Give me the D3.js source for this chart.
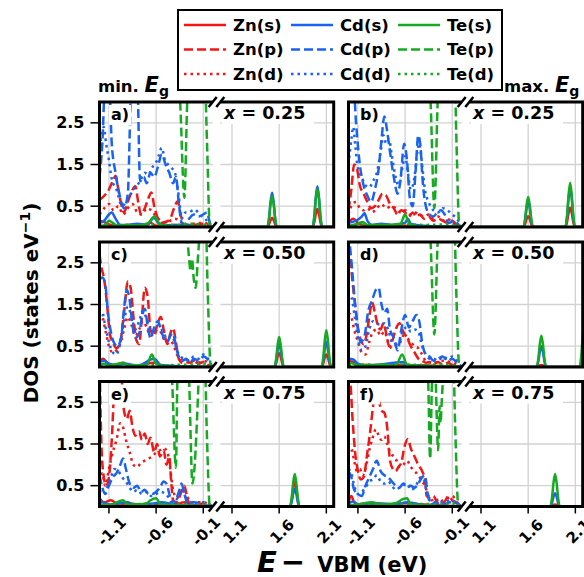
<!DOCTYPE html>
<html>
<head>
<script src="https://d3js.org/d3.v7.min.js"></script>
<style>
  body { margin: 0; background: #fff; }
  svg { font-family: 'DejaVu Sans', sans-serif; font-weight: bold; }
  text { white-space: pre; }
</style>
</head>
<body>
<div id="chart"></div>
<script>
// ---- data: [E - VBM (eV), DOS (states/eV)] ----
var seriesNames = ["Zn(s)", "Zn(p)", "Zn(d)", "Cd(s)", "Cd(p)", "Cd(d)", "Te(s)", "Te(p)", "Te(d)"];
var panelLabels = ["a)", "b)", "c)", "d)", "e)", "f)"];
var compositions = ["0.25", "0.25", "0.50", "0.50", "0.75", "0.75"];
var vbTicks = [-1.1, -0.6, -0.1];
var cbTicks = [1.1, 1.6, 2.1];
var yTicks = [0.5, 1.5, 2.5];

// panel a
var aZnS = [[-1.2,0.15],[-1.15,0.12],[-1.1,0.06],[-1.0,0.03],[-0.9,0.05],[-0.8,0.05],[-0.7,0.04],[-0.66,0.1],[-0.6,0.03],[-0.4,0.05],[-0.2,0.02],[0,0],
  [0.976,0],[1.475,0],[1.492,0.06],[1.508,0.16],[1.525,0.22],[1.542,0.16],[1.558,0.06],[1.575,0],[1.955,0],[1.972,0.11],[1.988,0.31],[2.005,0.43],[2.022,0.31],[2.038,0.11],[2.055,0],[2.178,0]];
var aZnP = [[-1.2,0.65],[-1.15,0.75],[-1.1,0.9],[-1.06,1.1],[-1.03,1.23],[-1.0,0.9],[-0.97,0.55],[-0.94,0.35],[-0.9,0.6],[-0.86,0.85],[-0.82,0.98],[-0.79,0.6],[-0.76,0.3],[-0.72,0.45],[-0.68,0.7],[-0.65,0.83],[-0.62,0.5],[-0.58,0.2],[-0.54,0.1],[-0.5,0.12],[-0.45,0.2],[-0.41,0.45],[-0.37,0.62],[-0.34,0.3],[-0.3,0.05],[-0.2,0.05],[-0.1,0.08],[0,0]];
var aZnD = [[-1.2,0.3],[-1.15,0.45],[-1.1,0.55],[-1.05,0.4],[-1.0,0.5],[-0.95,0.3],[-0.9,0.45],[-0.85,0.55],[-0.8,0.35],[-0.75,0.3],[-0.7,0.45],[-0.65,0.4],[-0.6,0.25],[-0.55,0.15],[-0.5,0.1],[-0.45,0.15],[-0.4,0.2],[-0.35,0.15],[-0.3,0.05],[-0.2,0.08],[-0.1,0.1],[0,0]];
var aCdS = [[-1.2,0.1],[-1.15,0.15],[-1.1,0.3],[-1.07,0.35],[-1.03,0.2],[-0.98,0.05],[-0.9,0.05],[-0.8,0.08],[-0.7,0.05],[-0.62,0.22],[-0.58,0.1],[-0.5,0.03],[-0.4,0.05],[-0.2,0.02],[0,0],
  [0.976,0],[1.475,0],[1.492,0.2],[1.508,0.59],[1.525,0.82],[1.542,0.59],[1.558,0.2],[1.575,0],[1.955,0],[1.972,0.25],[1.988,0.71],[2.005,0.98],[2.022,0.71],[2.038,0.25],[2.055,0],[2.178,0]];
var aCdP = [[-1.2,1.2],[-1.17,2.0],[-1.14,3.5],[-1.1,3.5],[-1.07,2.0],[-1.03,1.3],[-0.98,0.7],[-0.94,0.45],[-0.9,0.8],[-0.86,3.5],[-0.8,3.5],[-0.77,1.1],[-0.73,1.2],[-0.7,1.05],[-0.66,1.3],[-0.62,1.2],[-0.58,1.45],[-0.54,1.75],[-0.5,1.5],[-0.46,1.3],[-0.42,1.05],[-0.39,1.2],[-0.36,0.6],[-0.33,0.1],[-0.3,0.05],[-0.25,0.2],[-0.2,0.3],[-0.15,0.25],[-0.1,0.3],[-0.06,0.35],[-0.03,0.1],[0,0]];
var aCdD = [[-1.2,1.6],[-1.18,2.2],[-1.155,2.4],[-1.13,2.0],[-1.1,1.6],[-1.07,1.15],[-1.02,0.9],[-0.96,0.5],[-0.92,0.6],[-0.89,0.7],[-0.84,0.9],[-0.8,1.0],[-0.77,1.1],[-0.72,1.3],[-0.68,1.25],[-0.65,1.4],[-0.6,1.55],[-0.575,1.7],[-0.54,1.9],[-0.505,1.6],[-0.45,1.45],[-0.4,1.3],[-0.36,0.75],[-0.33,0.2],[-0.29,0.35],[-0.26,0.35],[-0.19,0.42],[-0.14,0.3],[-0.08,0.2],[-0.03,0.05],[0,0]];
var aTeS = [[-1.2,0.02],[-1.14,0.05],[-1.1,0.15],[-1.06,0.1],[-1.0,0.02],[-0.9,0.05],[-0.8,0.03],[-0.68,0.1],[-0.62,0.25],[-0.57,0.1],[-0.5,0.02],[-0.3,0.02],[0,0],
  [0.976,0],[1.475,0],[1.492,0.19],[1.508,0.53],[1.525,0.74],[1.542,0.53],[1.558,0.19],[1.575,0],[1.955,0],[1.972,0.23],[1.988,0.66],[2.005,0.92],[2.022,0.66],[2.038,0.23],[2.055,0],[2.178,0]];
var aTeP = [[-1.2,3.6],[-0.36,3.6],[-0.345,3.0],[-0.3,0.7],[-0.27,3.0],[-0.255,3.6],[-0.085,3.6],[-0.06,2.0],[-0.03,0],[0,0]];
var aTeD = [[-1.2,0.03],[-1.0,0.05],[-0.8,0.04],[-0.6,0.06],[-0.4,0.05],[-0.25,0.08],[-0.1,0.06],[0,0]];

// panel b
var bZnS = [[-1.2,0.1],[-1.15,0.2],[-1.1,0.1],[-1.0,0.03],[-0.8,0.05],[-0.6,0.03],[-0.4,0.02],[0,0],
  [0.976,0],[1.55,0],[1.567,0.07],[1.583,0.19],[1.6,0.26],[1.617,0.19],[1.633,0.07],[1.65,0],[1.995,0],[2.012,0.12],[2.028,0.33],[2.045,0.46],[2.062,0.33],[2.078,0.12],[2.095,0],[2.178,0]];
var bZnP = [[-1.2,0.4],[-1.17,0.9],[-1.14,1.5],[-1.11,1.4],[-1.08,1.0],[-1.04,0.8],[-1.0,0.6],[-0.96,0.45],[-0.92,0.5],[-0.88,0.65],[-0.84,0.8],[-0.8,0.75],[-0.76,0.55],[-0.72,0.45],[-0.68,0.3],[-0.64,0.4],[-0.6,0.35],[-0.56,0.25],[-0.52,0.35],[-0.48,0.25],[-0.44,0.3],[-0.4,0.2],[-0.35,0.25],[-0.3,0.15],[-0.25,0.2],[-0.2,0.15],[-0.15,0.1],[-0.1,0.15],[-0.05,0.05],[0,0]];
var bZnD = [[-1.2,0.3],[-1.16,0.55],[-1.12,0.6],[-1.08,0.45],[-1.04,0.4],[-1.0,0.45],[-0.95,0.35],[-0.9,0.45],[-0.85,0.55],[-0.8,0.45],[-0.75,0.5],[-0.7,0.45],[-0.65,0.35],[-0.6,0.4],[-0.55,0.3],[-0.5,0.35],[-0.45,0.3],[-0.4,0.25],[-0.35,0.3],[-0.3,0.2],[-0.25,0.25],[-0.2,0.15],[-0.15,0.2],[-0.1,0.1],[0,0]];
var bCdS = [[-1.2,0.1],[-1.12,0.15],[-1.06,0.25],[-1.03,0.33],[-1.0,0.15],[-0.95,0.05],[-0.85,0.08],[-0.75,0.05],[-0.6,0.1],[-0.57,0.2],[-0.54,0.08],[-0.4,0.03],[0,0],
  [0.976,0],[1.55,0],[1.567,0.16],[1.583,0.45],[1.6,0.62],[1.617,0.45],[1.633,0.16],[1.65,0],[1.995,0],[2.012,0.24],[2.028,0.68],[2.045,0.95],[2.062,0.68],[2.078,0.24],[2.095,0],[2.178,0]];
var bCdP = [[-1.2,3.5],[-1.15,3.5],[-1.12,2.5],[-1.08,1.5],[-1.04,1.0],[-1.0,0.75],[-0.96,0.6],[-0.92,0.9],[-0.88,1.4],[-0.85,2.1],[-0.82,2.65],[-0.79,2.3],[-0.76,1.8],[-0.72,1.2],[-0.68,0.8],[-0.65,1.1],[-0.61,2.0],[-0.58,1.6],[-0.55,0.7],[-0.52,0.5],[-0.49,1.3],[-0.46,2.2],[-0.44,2.0],[-0.41,1.0],[-0.38,0.5],[-0.34,0.3],[-0.3,0.25],[-0.26,0.35],[-0.22,0.4],[-0.18,0.3],[-0.14,0.1],[-0.08,0.15],[-0.03,0.05],[0,0]];
var bCdD = [[-1.2,1.5],[-1.17,2.1],[-1.15,2.4],[-1.13,2.0],[-1.1,1.4],[-1.06,1.2],[-1.02,1.0],[-0.98,0.95],[-0.94,1.1],[-0.9,1.3],[-0.86,1.8],[-0.83,2.2],[-0.8,2.0],[-0.77,2.1],[-0.74,1.7],[-0.7,1.2],[-0.67,1.0],[-0.63,1.4],[-0.6,1.7],[-0.57,1.3],[-0.54,0.9],[-0.5,1.2],[-0.47,1.8],[-0.45,2.0],[-0.42,1.5],[-0.39,0.9],[-0.35,0.6],[-0.3,0.4],[-0.25,0.35],[-0.2,0.45],[-0.15,0.4],[-0.1,0.3],[-0.05,0.2],[0,0]];
var bTeS = [[-1.2,0.02],[-1.1,0.08],[-1.05,0.12],[-1.0,0.05],[-0.8,0.05],[-0.65,0.08],[-0.6,0.3],[-0.56,0.1],[-0.5,0.02],[0,0],
  [0.976,0],[1.55,0],[1.567,0.18],[1.583,0.52],[1.6,0.72],[1.617,0.52],[1.633,0.18],[1.65,0],[1.995,0],[2.012,0.27],[2.028,0.76],[2.045,1.06],[2.062,0.76],[2.078,0.27],[2.095,0],[2.178,0]];
var bTeP = [[-1.2,3.6],[-0.345,3.6],[-0.33,3.0],[-0.29,0.45],[-0.255,3.0],[-0.245,3.6],[-0.075,3.6],[-0.055,2.0],[-0.025,0],[0,0]];
var bTeD = [[-1.2,0.04],[-1.0,0.05],[-0.8,0.05],[-0.6,0.06],[-0.4,0.05],[-0.2,0.06],[-0.1,0.05],[0,0]];

// panel c
var cZnS = [[-1.2,0.15],[-1.16,0.2],[-1.12,0.1],[-1.05,0.03],[-0.95,0.1],[-0.9,0.05],[-0.8,0.03],[-0.62,0.1],[-0.55,0.03],[0,0],
  [0.976,0],[1.55,0],[1.567,0.08],[1.583,0.24],[1.6,0.33],[1.617,0.24],[1.633,0.08],[1.65,0],[2.05,0],[2.067,0.08],[2.083,0.22],[2.1,0.3],[2.117,0.22],[2.133,0.08],[2.15,0],[2.178,0]];
var cZnP = [[-1.2,2.7],[-1.18,2.4],[-1.15,2.1],[-1.12,1.5],[-1.09,0.8],[-1.05,0.55],[-1.02,0.45],[-0.98,0.6],[-0.94,1.3],[-0.9,2.05],[-0.87,1.9],[-0.84,1.2],[-0.81,0.65],[-0.78,0.55],[-0.75,1.2],[-0.72,1.9],[-0.69,1.7],[-0.66,0.9],[-0.62,0.75],[-0.59,1.0],[-0.55,1.2],[-0.52,0.9],[-0.48,0.55],[-0.45,0.8],[-0.42,0.93],[-0.39,0.6],[-0.36,0.2],[-0.32,0.1],[-0.28,0.18],[-0.24,0.1],[-0.2,0.15],[-0.15,0.08],[-0.1,0.12],[-0.05,0.05],[0,0]];
var cZnD = [[-1.2,1.1],[-1.17,1.2],[-1.14,0.9],[-1.1,0.5],[-1.06,0.35],[-1.02,0.4],[-0.98,0.55],[-0.94,0.9],[-0.9,1.2],[-0.86,1.0],[-0.82,0.75],[-0.78,0.9],[-0.74,1.1],[-0.7,0.95],[-0.66,0.75],[-0.62,0.8],[-0.58,0.9],[-0.54,0.8],[-0.5,0.6],[-0.46,0.65],[-0.42,0.55],[-0.38,0.3],[-0.34,0.2],[-0.3,0.15],[-0.25,0.1],[-0.2,0.15],[-0.15,0.1],[-0.1,0.15],[-0.05,0.1],[0,0]];
var cCdS = [[-1.2,0.12],[-1.15,0.15],[-1.1,0.08],[-1.0,0.05],[-0.92,0.08],[-0.8,0.03],[-0.62,0.2],[-0.55,0.05],[0,0],
  [0.976,0],[1.55,0],[1.567,0.14],[1.583,0.4],[1.6,0.55],[1.617,0.4],[1.633,0.14],[1.65,0],[2.05,0],[2.067,0.15],[2.083,0.43],[2.1,0.6],[2.117,0.43],[2.133,0.15],[2.15,0],[2.178,0]];
var cCdP = [[-1.2,2.1],[-1.17,2.15],[-1.14,2.0],[-1.11,1.3],[-1.08,0.85],[-1.05,0.6],[-1.01,0.5],[-0.97,0.7],[-0.94,1.4],[-0.91,1.85],[-0.88,1.6],[-0.85,1.0],[-0.82,0.7],[-0.78,0.8],[-0.75,1.2],[-0.72,1.4],[-0.69,1.0],[-0.66,0.7],[-0.62,0.95],[-0.58,1.1],[-0.55,0.9],[-0.52,0.7],[-0.48,0.6],[-0.45,0.75],[-0.42,0.8],[-0.39,0.5],[-0.36,0.25],[-0.32,0.15],[-0.28,0.2],[-0.24,0.1],[-0.2,0.2],[-0.15,0.15],[-0.1,0.25],[-0.06,0.2],[-0.03,0.05],[0,0]];
var cCdD = [[-1.2,1.2],[-1.17,1.3],[-1.14,1.0],[-1.1,0.6],[-1.06,0.35],[-1.02,0.3],[-0.98,0.6],[-0.94,1.1],[-0.9,1.45],[-0.86,1.2],[-0.82,0.9],[-0.78,1.1],[-0.74,1.35],[-0.7,1.15],[-0.66,0.9],[-0.62,0.85],[-0.58,1.0],[-0.54,0.9],[-0.5,0.75],[-0.46,0.8],[-0.42,0.7],[-0.38,0.4],[-0.34,0.25],[-0.3,0.2],[-0.25,0.15],[-0.2,0.25],[-0.15,0.2],[-0.1,0.3],[-0.05,0.2],[0,0]];
var cTeS = [[-1.2,0.05],[-1.15,0.08],[-1.1,0.03],[-0.95,0.1],[-0.9,0.03],[-0.7,0.05],[-0.645,0.3],[-0.6,0.08],[-0.5,0.02],[0,0],
  [0.976,0],[1.55,0],[1.567,0.18],[1.583,0.52],[1.6,0.72],[1.617,0.52],[1.633,0.18],[1.65,0],[2.05,0],[2.067,0.22],[2.083,0.63],[2.1,0.88],[2.117,0.63],[2.133,0.22],[2.15,0],[2.178,0]];
var cTeP = [[-1.2,3.6],[-0.28,3.6],[-0.265,3.0],[-0.25,2.6],[-0.235,2.3],[-0.22,2.6],[-0.2,2.1],[-0.18,1.9],[-0.16,2.5],[-0.145,3.0],[-0.13,3.6],[-0.075,3.6],[-0.055,2.0],[-0.02,0],[0,0]];
var cTeD = [[-1.2,0.03],[-1.0,0.05],[-0.8,0.05],[-0.6,0.04],[-0.4,0.05],[-0.2,0.06],[-0.1,0.08],[0,0]];

// panel d
var dZnS = [[-1.2,0.15],[-1.15,0.12],[-1.1,0.05],[-0.9,0.05],[-0.62,0.05],[0,0],
  [0.976,0],[1.69,0],[1.707,0.01],[1.723,0.04],[1.74,0.05],[1.757,0.04],[1.773,0.01],[1.79,0],[2.145,0],[2.162,0.05],[2.178,0.14],[2.195,0.2]];
var dZnP = [[-1.2,2.9],[-1.18,2.6],[-1.16,2.1],[-1.13,1.5],[-1.1,0.95],[-1.07,0.65],[-1.04,0.55],[-1.01,0.75],[-0.98,1.2],[-0.95,1.55],[-0.92,1.3],[-0.89,1.0],[-0.86,0.9],[-0.83,1.05],[-0.8,0.8],[-0.77,0.5],[-0.74,0.6],[-0.7,0.9],[-0.66,1.05],[-0.62,0.85],[-0.58,0.7],[-0.54,0.5],[-0.5,0.35],[-0.46,0.2],[-0.42,0.15],[-0.38,0.1],[-0.34,0.12],[-0.3,0.08],[-0.25,0.12],[-0.2,0.05],[-0.15,0.1],[-0.1,0.05],[0,0]];
var dZnD = [[-1.2,1.3],[-1.17,1.2],[-1.14,0.9],[-1.1,0.6],[-1.06,0.35],[-1.02,0.3],[-0.98,0.6],[-0.94,0.85],[-0.9,0.9],[-0.86,0.75],[-0.82,0.85],[-0.78,0.6],[-0.74,0.45],[-0.7,0.5],[-0.66,0.55],[-0.62,0.75],[-0.58,0.7],[-0.54,0.6],[-0.5,0.5],[-0.46,0.45],[-0.42,0.3],[-0.38,0.15],[-0.3,0.1],[-0.2,0.15],[-0.1,0.1],[0,0]];
var dCdS = [[-1.2,0.2],[-1.15,0.18],[-1.1,0.08],[-1.0,0.03],[-0.9,0.05],[-0.62,0.12],[-0.58,0.04],[0,0],
  [0.976,0],[1.69,0],[1.707,0.13],[1.723,0.36],[1.74,0.5],[1.757,0.36],[1.773,0.13],[1.79,0],[2.145,0],[2.162,0.12],[2.178,0.36],[2.195,0.5]];
var dCdP = [[-1.2,3.2],[-1.18,2.8],[-1.16,2.3],[-1.13,1.5],[-1.1,0.9],[-1.07,0.6],[-1.03,0.75],[-0.99,1.35],[-0.95,1.6],[-0.91,1.85],[-0.88,1.9],[-0.85,1.5],[-0.82,1.3],[-0.79,1.4],[-0.76,0.9],[-0.72,0.7],[-0.68,0.4],[-0.64,0.9],[-0.6,1.25],[-0.56,0.95],[-0.52,1.1],[-0.48,1.25],[-0.45,1.1],[-0.42,0.6],[-0.38,0.3],[-0.34,0.25],[-0.3,0.15],[-0.25,0.2],[-0.2,0.25],[-0.15,0.15],[-0.1,0.2],[-0.05,0.1],[0,0]];
var dCdD = [[-1.2,1.6],[-1.17,1.7],[-1.14,1.3],[-1.1,0.7],[-1.06,0.4],[-1.02,0.5],[-0.98,0.9],[-0.94,1.1],[-0.9,1.05],[-0.86,1.0],[-0.82,1.05],[-0.78,0.9],[-0.74,0.6],[-0.7,0.55],[-0.66,0.6],[-0.62,0.9],[-0.58,0.95],[-0.54,0.85],[-0.5,0.9],[-0.46,0.85],[-0.42,0.5],[-0.38,0.3],[-0.34,0.2],[-0.3,0.2],[-0.25,0.15],[-0.2,0.25],[-0.15,0.2],[-0.1,0.25],[-0.05,0.15],[0,0]];
var dTeS = [[-1.2,0.1],[-1.15,0.08],[-1.1,0.03],[-1.0,0.05],[-0.95,0.03],[-0.85,0.06],[-0.7,0.03],[-0.63,0.3],[-0.58,0.05],[0,0],
  [0.976,0],[1.69,0],[1.707,0.19],[1.723,0.54],[1.74,0.75],[1.757,0.54],[1.773,0.19],[1.79,0],[2.145,0],[2.162,0.25],[2.178,0.72],[2.195,1.0]];
var dTeP = [[-1.2,3.6],[-0.345,3.6],[-0.33,3.0],[-0.29,0.78],[-0.255,3.0],[-0.24,3.6],[-0.08,3.6],[-0.06,2.0],[-0.025,0],[0,0]];
var dTeD = [[-1.2,0.04],[-1.0,0.06],[-0.8,0.05],[-0.6,0.06],[-0.4,0.05],[-0.2,0.07],[-0.1,0.05],[0,0]];

// panel e
var eZnS = [[-1.2,0.2],[-1.15,0.1],[-1.08,0.15],[-1.0,0.05],[-0.9,0.08],[-0.8,0.05],[-0.6,0.05],[-0.4,0.05],[-0.3,0.1],[-0.2,0.03],[0,0],
  [0.976,0],[1.715,0],[1.732,0.15],[1.748,0.43],[1.765,0.6],[1.782,0.43],[1.798,0.15],[1.815,0],[2.178,0]];
var eZnP = [[-1.2,3.6],[-1.18,1.5],[-1.16,0.8],[-1.13,0.5],[-1.1,0.7],[-1.07,1.6],[-1.04,3.0],[-1.0,3.6],[-0.97,3.2],[-0.94,2.3],[-0.91,2.1],[-0.88,2.3],[-0.85,1.9],[-0.82,1.7],[-0.78,1.8],[-0.75,1.6],[-0.72,1.75],[-0.69,1.5],[-0.66,1.65],[-0.62,1.3],[-0.59,1.5],[-0.56,1.2],[-0.52,1.35],[-0.49,1.0],[-0.46,1.2],[-0.44,0.6],[-0.42,0.15],[-0.38,0.1],[-0.34,0.3],[-0.3,0.5],[-0.27,0.2],[-0.24,0.05],[-0.2,0.1],[-0.15,0.05],[-0.1,0.08],[0,0]];
var eZnD = [[-1.2,0.6],[-1.17,0.8],[-1.14,0.5],[-1.1,0.9],[-1.06,1.3],[-1.02,1.6],[-0.98,2.0],[-0.95,1.9],[-0.92,1.6],[-0.88,1.3],[-0.84,1.0],[-0.8,0.95],[-0.76,1.05],[-0.72,1.1],[-0.68,1.15],[-0.64,1.2],[-0.6,1.3],[-0.56,1.35],[-0.52,1.4],[-0.48,1.3],[-0.45,0.9],[-0.42,0.4],[-0.38,0.2],[-0.34,0.35],[-0.3,0.4],[-0.26,0.2],[-0.2,0.1],[-0.1,0.1],[0,0]];
var eCdS = [[-1.2,0.15],[-1.15,0.08],[-1.1,0.05],[-0.9,0.1],[-0.85,0.05],[-0.6,0.08],[-0.55,0.1],[-0.4,0.05],[0,0],
  [0.976,0],[1.715,0],[1.732,0.1],[1.748,0.3],[1.765,0.42],[1.782,0.3],[1.798,0.1],[1.815,0],[2.178,0]];
var eCdP = [[-1.2,0.75],[-1.17,0.45],[-1.14,0.3],[-1.1,0.5],[-1.06,0.7],[-1.02,0.8],[-0.98,1.0],[-0.95,1.15],[-0.92,0.9],[-0.88,0.55],[-0.84,0.45],[-0.8,0.5],[-0.76,0.35],[-0.72,0.4],[-0.68,0.3],[-0.64,0.3],[-0.6,0.35],[-0.56,0.45],[-0.52,0.6],[-0.49,0.55],[-0.46,0.3],[-0.43,0.05],[-0.4,0.1],[-0.36,0.35],[-0.33,0.55],[-0.3,0.3],[-0.26,0.05],[-0.2,0.1],[-0.12,0.05],[0,0]];
var eCdD = [[-1.2,0.4],[-1.16,0.3],[-1.12,0.45],[-1.08,0.7],[-1.04,0.9],[-1.0,0.85],[-0.96,0.7],[-0.92,0.6],[-0.88,0.45],[-0.84,0.35],[-0.8,0.4],[-0.75,0.3],[-0.7,0.35],[-0.65,0.25],[-0.6,0.3],[-0.55,0.35],[-0.5,0.3],[-0.46,0.2],[-0.42,0.1],[-0.36,0.25],[-0.32,0.4],[-0.28,0.2],[-0.2,0.08],[-0.1,0.1],[0,0]];
var eTeS = [[-1.2,0.05],[-1.1,0.03],[-0.95,0.15],[-0.9,0.05],[-0.8,0.05],[-0.7,0.08],[-0.66,0.15],[-0.6,0.2],[-0.55,0.05],[-0.4,0.03],[0,0],
  [0.976,0],[1.715,0],[1.732,0.2],[1.748,0.56],[1.765,0.78],[1.782,0.56],[1.798,0.2],[1.815,0],[2.178,0]];
var eTeP = [[-1.2,3.6],[-0.445,3.6],[-0.43,3.0],[-0.39,0.93],[-0.375,3.0],[-0.365,3.6],[-0.265,3.6],[-0.25,3.0],[-0.215,0.55],[-0.15,3.0],[-0.14,3.6],[-0.085,3.6],[-0.065,2.0],[-0.03,0],[0,0]];
var eTeD = [[-1.2,0.05],[-1.0,0.04],[-0.8,0.06],[-0.6,0.05],[-0.4,0.06],[-0.2,0.05],[-0.1,0.06],[0,0]];

// panel f
var fZnS = [[-1.2,0.1],[-1.17,0.25],[-1.14,0.1],[-1.1,0.05],[-1.0,0.08],[-0.8,0.05],[-0.6,0.08],[-0.4,0.05],[0,0],
  [0.976,0],[1.835,0],[1.852,0.01],[1.868,0.04],[1.885,0.05],[1.902,0.04],[1.918,0.01],[1.935,0],[2.178,0]];
var fZnP = [[-1.2,2.6],[-1.18,2.9],[-1.16,2.2],[-1.13,1.3],[-1.1,0.85],[-1.07,0.65],[-1.04,0.7],[-1.0,1.3],[-0.97,1.8],[-0.94,2.4],[-0.91,2.8],[-0.88,2.55],[-0.85,2.3],[-0.82,2.25],[-0.79,1.9],[-0.76,1.1],[-0.73,0.9],[-0.7,0.85],[-0.67,0.95],[-0.64,1.05],[-0.61,1.4],[-0.57,1.62],[-0.54,1.4],[-0.5,1.2],[-0.46,1.0],[-0.42,0.85],[-0.39,0.65],[-0.37,0.25],[-0.33,0.2],[-0.3,0.25],[-0.26,0.1],[-0.22,0.05],[-0.18,0.12],[-0.14,0.25],[-0.1,0.15],[-0.06,0.1],[0,0]];
var fZnD = [[-1.2,1.3],[-1.17,1.4],[-1.14,1.1],[-1.11,0.85],[-1.08,0.9],[-1.05,0.75],[-1.01,1.0],[-0.98,1.35],[-0.95,1.6],[-0.91,1.85],[-0.88,1.7],[-0.85,1.6],[-0.82,1.68],[-0.79,1.5],[-0.76,1.3],[-0.72,1.2],[-0.69,1.1],[-0.66,0.95],[-0.62,1.0],[-0.58,1.1],[-0.54,0.95],[-0.5,0.85],[-0.46,0.75],[-0.42,0.6],[-0.39,0.5],[-0.36,0.3],[-0.32,0.15],[-0.28,0.2],[-0.24,0.1],[-0.2,0.15],[-0.15,0.2],[-0.1,0.25],[-0.05,0.1],[0,0]];
var fCdS = [[-1.2,0.08],[-1.15,0.12],[-1.1,0.05],[-0.9,0.08],[-0.7,0.05],[-0.58,0.1],[-0.4,0.03],[0,0],
  [0.976,0],[1.835,0],[1.852,0.08],[1.868,0.23],[1.885,0.32],[1.902,0.23],[1.918,0.08],[1.935,0],[2.178,0]];
var fCdP = [[-1.2,0.85],[-1.17,0.7],[-1.14,0.4],[-1.1,0.3],[-1.06,0.25],[-1.02,0.5],[-0.98,0.7],[-0.94,0.9],[-0.9,1.1],[-0.86,0.85],[-0.82,0.75],[-0.78,0.7],[-0.74,0.6],[-0.7,0.5],[-0.66,0.45],[-0.62,0.55],[-0.58,0.5],[-0.54,0.5],[-0.5,0.45],[-0.46,0.55],[-0.42,0.7],[-0.39,0.75],[-0.36,0.3],[-0.32,0.05],[-0.28,0.1],[-0.2,0.05],[-0.12,0.1],[-0.06,0.08],[0,0]];
var fCdD = [[-1.2,0.9],[-1.17,0.8],[-1.14,0.5],[-1.1,0.3],[-1.06,0.35],[-1.02,0.45],[-0.98,0.6],[-0.94,0.65],[-0.9,0.75],[-0.86,0.6],[-0.82,0.55],[-0.78,0.6],[-0.74,0.5],[-0.7,0.4],[-0.66,0.45],[-0.62,0.5],[-0.58,0.55],[-0.54,0.4],[-0.5,0.45],[-0.46,0.6],[-0.42,0.7],[-0.39,0.55],[-0.36,0.2],[-0.3,0.1],[-0.2,0.1],[-0.12,0.15],[-0.06,0.1],[0,0]];
var fTeS = [[-1.2,0.03],[-1.1,0.05],[-0.95,0.1],[-0.85,0.05],[-0.7,0.08],[-0.62,0.18],[-0.58,0.2],[-0.54,0.05],[-0.4,0.03],[0,0],
  [0.976,0],[1.835,0],[1.852,0.2],[1.868,0.56],[1.885,0.78],[1.902,0.56],[1.918,0.2],[1.935,0],[2.178,0]];
var fTeP = [[-1.2,3.6],[-0.37,3.6],[-0.355,3.0],[-0.335,1.15],[-0.315,3.0],[-0.305,3.6],[-0.285,3.6],[-0.275,3.0],[-0.25,1.35],[-0.235,2.4],[-0.225,2.0],[-0.21,2.6],[-0.2,3.0],[-0.19,3.6],[-0.09,3.6],[-0.07,2.0],[-0.035,0],[0,0]];
var fTeD = [[-1.2,0.04],[-1.0,0.05],[-0.8,0.06],[-0.6,0.05],[-0.4,0.06],[-0.2,0.05],[-0.1,0.07],[0,0]];

var panels = [
  [aZnS, aZnP, aZnD, aCdS, aCdP, aCdD, aTeS, aTeP, aTeD],
  [bZnS, bZnP, bZnD, bCdS, bCdP, bCdD, bTeS, bTeP, bTeD],
  [cZnS, cZnP, cZnD, cCdS, cCdP, cCdD, cTeS, cTeP, cTeD],
  [dZnS, dZnP, dZnD, dCdS, dCdP, dCdD, dTeS, dTeP, dTeD],
  [eZnS, eZnP, eZnD, eCdS, eCdP, eCdD, eTeS, eTeP, eTeD],
  [fZnS, fZnP, fZnD, fCdS, fCdP, fCdD, fTeS, fTeP, fTeD]
];

// ---- styles / layout ----
var colors = { Zn: "#f21616", Cd: "#1a62f0", Te: "#16aa22" };
var dashes = { s: null, p: "9,4", d: "2.5,4" };
var lw = 2.5;

var colX = [0, 249];
var rowY = [102, 242, 381.5];
var panelH = 125;
var vbRange = [99.5, 212.7];
var cbRange = [220.3, 333.7];

var xVB = d3.scaleLinear().domain([-1.2, 0]).range(vbRange);
var xCB = d3.scaleLinear().domain([0.976, 2.178]).range(cbRange);
var y = d3.scaleLinear().domain([0, 3]).range([panelH, 0]);

function colorOf(name) { return colors[name.slice(0, 2)]; }
function dashOf(name) { return dashes[name.charAt(3)]; }

var svg = d3.select("#chart").append("svg")
  .attr("width", 584)
  .attr("height", 577);

var defs = svg.append("defs");

panels.forEach(function (series, i) {
  var col = i % 2, row = Math.floor(i / 2);
  var g = svg.append("g").attr("transform", "translate(" + colX[col] + "," + rowY[row] + ")");

  defs.append("clipPath").attr("id", "vb" + i)
    .append("rect").attr("x", vbRange[0]).attr("y", 0)
    .attr("width", vbRange[1] - vbRange[0]).attr("height", panelH);
  defs.append("clipPath").attr("id", "cb" + i)
    .append("rect").attr("x", cbRange[0]).attr("y", 0)
    .attr("width", cbRange[1] - cbRange[0]).attr("height", panelH);

  // grid
  var grid = g.append("g").attr("stroke", "#d2d2d2").attr("stroke-width", 1.3);
  grid.selectAll("line.hv").data(yTicks).enter().append("line")
    .attr("x1", vbRange[0]).attr("x2", vbRange[1])
    .attr("y1", function (d) { return y(d); }).attr("y2", function (d) { return y(d); });
  grid.selectAll("line.hc").data(yTicks).enter().append("line")
    .attr("x1", cbRange[0]).attr("x2", cbRange[1])
    .attr("y1", function (d) { return y(d); }).attr("y2", function (d) { return y(d); });
  grid.selectAll("line.vv").data(vbTicks).enter().append("line")
    .attr("x1", function (d) { return xVB(d); }).attr("x2", function (d) { return xVB(d); })
    .attr("y1", 0).attr("y2", panelH);
  grid.selectAll("line.vc").data(cbTicks).enter().append("line")
    .attr("x1", function (d) { return xCB(d); }).attr("x2", function (d) { return xCB(d); })
    .attr("y1", 0).attr("y2", panelH);

  // curves
  var lineVB = d3.line().x(function (d) { return xVB(d[0]); }).y(function (d) { return y(d[1]); }).curve(d3.curveMonotoneX);
  var lineCB = d3.line().x(function (d) { return xCB(d[0]); }).y(function (d) { return y(d[1]); }).curve(d3.curveMonotoneX);
  var gv = g.append("g").attr("clip-path", "url(#vb" + i + ")");
  var gc = g.append("g").attr("clip-path", "url(#cb" + i + ")");

  series.forEach(function (s, k) {
    var name = seriesNames[k];
    var vb = s.filter(function (d) { return d[0] <= 0; });
    var cb = s.filter(function (d) { return d[0] > 0.5; });
    gv.append("path").attr("d", lineVB(vb))
      .attr("fill", "none").attr("stroke", colorOf(name)).attr("stroke-width", lw)
      .attr("stroke-dasharray", dashOf(name));
    if (cb.length) {
      gc.append("path").attr("d", lineCB(cb))
        .attr("fill", "none").attr("stroke", colorOf(name)).attr("stroke-width", lw)
        .attr("stroke-dasharray", dashOf(name));
    }
  });

  // frame with break
  g.append("path")
    .attr("d", "M" + vbRange[1] + ",0H" + vbRange[0] + "V" + panelH + "H" + vbRange[1])
    .attr("fill", "none").attr("stroke", "#000").attr("stroke-width", 3);
  g.append("path")
    .attr("d", "M" + cbRange[0] + ",0H" + cbRange[1] + "V" + panelH + "H" + cbRange[0])
    .attr("fill", "none").attr("stroke", "#000").attr("stroke-width", 3);
  [vbRange[1], cbRange[0]].forEach(function (bx) {
    [0, panelH].forEach(function (by) {
      g.append("line")
        .attr("x1", bx - 4).attr("y1", by + 5).attr("x2", bx + 4).attr("y2", by - 5)
        .attr("stroke", "#000").attr("stroke-width", 2.5);
    });
  });

  // labels in panel
  g.append("rect").attr("x", 109).attr("y", 3).attr("width", 22).attr("height", 20).attr("fill", "#fff");
  g.append("text").attr("x", 111).attr("y", 18).attr("font-size", 16).text(panelLabels[i]);

  g.append("rect").attr("x", 222).attr("y", 2).attr("width", 92).attr("height", 20).attr("fill", "#fff");
  var tx = g.append("text").attr("x", 224).attr("y", 17).attr("font-size", 17.5);
  tx.append("tspan").attr("font-style", "italic").text("x");
  tx.append("tspan").text(" = " + compositions[i]);

  // y axis (left column only)
  if (col === 0) {
    g.selectAll("line.yt").data(yTicks).enter().append("line")
      .attr("x1", vbRange[0] - 9).attr("x2", vbRange[0])
      .attr("y1", function (d) { return y(d); }).attr("y2", function (d) { return y(d); })
      .attr("stroke", "#000").attr("stroke-width", 1.5);
    g.selectAll("text.yl").data(yTicks).enter().append("text")
      .attr("x", vbRange[0] - 15).attr("y", function (d) { return y(d); })
      .attr("text-anchor", "end").attr("dominant-baseline", "central")
      .attr("font-size", 16).text(function (d) { return d.toFixed(1); });
  }

  // x axis (bottom row only)
  if (row === 2) {
    var ticks = vbTicks.map(function (d) { return { x: xVB(d), t: d.toFixed(1) }; })
      .concat(cbTicks.map(function (d) { return { x: xCB(d), t: d.toFixed(1) }; }));
    g.selectAll("line.xt").data(ticks).enter().append("line")
      .attr("x1", function (d) { return d.x; }).attr("x2", function (d) { return d.x; })
      .attr("y1", panelH).attr("y2", panelH + 7)
      .attr("stroke", "#000").attr("stroke-width", 1.5);
    g.selectAll("text.xl").data(ticks).enter().append("text")
      .attr("transform", function (d) { return "translate(" + (d.x + 3) + "," + (panelH + 25) + ") rotate(-45)"; })
      .attr("text-anchor", "middle").attr("dominant-baseline", "central")
      .attr("font-size", 15).text(function (d) { return d.t; });
  }
});

// legend
var legend = svg.append("g");
legend.append("rect").attr("x", 178).attr("y", 10).attr("width", 324).attr("height", 80)
  .attr("fill", "#fff").attr("stroke", "#000").attr("stroke-width", 2);
seriesNames.forEach(function (name, k) {
  var cx = 184 + 107 * Math.floor(k / 3);
  var cy = 25 + 24.5 * (k % 3);
  legend.append("line").attr("x1", cx).attr("x2", cx + 42).attr("y1", cy).attr("y2", cy)
    .attr("stroke", colorOf(name)).attr("stroke-width", lw).attr("stroke-dasharray", dashOf(name));
  legend.append("text").attr("x", cx + 49).attr("y", cy).attr("dominant-baseline", "central")
    .attr("font-size", 16.5).text(name);
});

// min / max Eg headings
[[98, "min."], [504, "max."]].forEach(function (h) {
  var t = svg.append("text").attr("x", h[0]).attr("y", 92).attr("font-size", 16.5);
  t.append("tspan").text(h[1] + " ");
  t.append("tspan").attr("font-style", "italic").attr("font-size", 21).text("E");
  t.append("tspan").attr("font-size", 14).attr("dy", 4).text("g");
});

// axis titles
var yt = svg.append("text").attr("transform", "translate(38,303) rotate(-90)")
  .attr("text-anchor", "middle").attr("font-size", 20);
yt.append("tspan").text("DOS (states eV");
yt.append("tspan").attr("font-size", 14).attr("dy", -8).text("\u22121");
yt.append("tspan").attr("dy", 8).text(")");

var xt = svg.append("text").attr("x", 257).attr("y", 572);
xt.append("tspan").attr("font-size", 29).attr("font-style", "italic").text("E");
xt.append("tspan").attr("font-size", 29).attr("dx", 4).text("\u2212");
xt.append("tspan").attr("font-size", 21).attr("dx", 12).text("VBM (eV)");
</script>
</body>
</html>
